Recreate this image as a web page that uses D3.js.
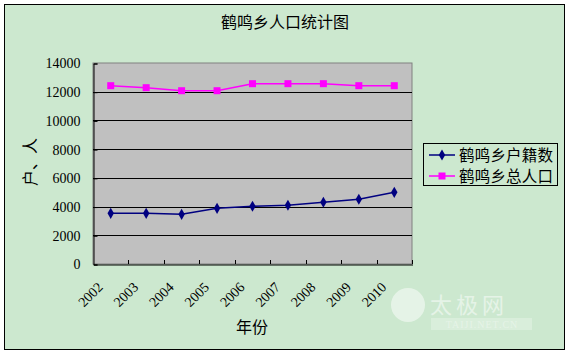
<!DOCTYPE html>
<html><head><meta charset="utf-8">
<script src="https://cdn.jsdelivr.net/npm/d3@7"></script>
<style>body{margin:0;background:#fff}svg{display:block}</style>
</head><body>
<script>
const years = ["2002","2003","2004","2005","2006","2007","2008","2009","2010"];
const huji = [3530, 3530, 3460, 3880, 4020, 4090, 4300, 4510, 4990];
const zongrenkou = [12420, 12280, 12070, 12070, 12560, 12560, 12560, 12420, 12420];
const yTicks = [0, 2000, 4000, 6000, 8000, 10000, 12000, 14000];
const seriesNames = ["鹤鸣乡户籍数", "鹤鸣乡总人口"];

const W = 570, H = 354;
const cjk = "'Noto Sans CJK SC', sans-serif";
const num = "'Liberation Serif', 'DejaVu Serif', serif";
const svg = d3.select("body").append("svg").attr("width", W).attr("height", H);

svg.append("rect").attr("x", 4.5).attr("y", 4.5).attr("width", 560).attr("height", 345)
  .attr("fill", "#cce8cf").attr("stroke", "#000").attr("stroke-width", 1);

const pl = 93, pr = 412, pt = 63, pb = 264;
const x = d3.scaleBand().domain(years).range([pl, pr]);
const y = d3.scaleLinear().domain([0, 14000]).range([pb, pt]);

svg.append("rect").attr("x", pl).attr("y", pt).attr("width", pr - pl).attr("height", pb - pt)
  .attr("fill", "#c0c0c0").attr("stroke", "#808080").attr("stroke-width", 1);

// gridlines
svg.append("g").selectAll("line").data(yTicks.filter(d => d > 0 && d < 14000)).join("line")
  .attr("x1", pl).attr("x2", pr).attr("y1", d => Math.round(y(d)) + 0.5).attr("y2", d => Math.round(y(d)) + 0.5)
  .attr("stroke", "#000").attr("stroke-width", 1);

// y axis
const yAxis = d3.axisLeft(y).tickValues(yTicks).tickFormat(d3.format("d")).tickSize(-4).tickPadding(13);
const ga = svg.append("g").attr("transform", `translate(${pl + 0.5},0.5)`).call(yAxis);
ga.select(".domain").attr("stroke", "#000");
ga.selectAll(".tick line").attr("stroke", "#000");
ga.selectAll("text").attr("font-family", num).attr("font-size", 14).attr("fill", "#000");

// x axis
const xAxis = d3.axisBottom(x).tickSize(0).tickFormat("");
const gx = svg.append("g").attr("transform", `translate(0.5,${pb + 0.5})`).call(xAxis);
gx.select(".domain").attr("stroke", "#000");
gx.selectAll(".tick").remove();
const bounds = years.map(d => x(d)).slice(1).concat([pr]);
svg.append("g").selectAll("line").data(bounds).join("line")
  .attr("x1", d => Math.round(d) + 0.5).attr("x2", d => Math.round(d) + 0.5)
  .attr("y1", pb - 4).attr("y2", pb).attr("stroke", "#000");

svg.append("g").selectAll("text").data(years).join("text")
  .attr("transform", d => `translate(${x(d) + x.bandwidth() / 2 - 7},${pb + 24}) rotate(-45)`)
  .attr("text-anchor", "end").attr("font-family", num).attr("font-size", 14).text(d => d);

// lines
const cx = (d, i) => x(years[i]) + x.bandwidth() / 2;
const line = d3.line().x((d, i) => cx(d, i)).y(d => y(d));
svg.append("path").datum(zongrenkou).attr("d", line).attr("fill", "none").attr("stroke", "#ff00ff").attr("stroke-width", 1.5);
svg.append("path").datum(huji).attr("d", line).attr("fill", "none").attr("stroke", "#000080").attr("stroke-width", 1.5);

svg.append("g").selectAll("rect").data(zongrenkou).join("rect")
  .attr("x", (d, i) => cx(d, i) - 3.5).attr("y", d => y(d) - 3.5).attr("width", 7).attr("height", 7).attr("fill", "#ff00ff");
svg.append("g").selectAll("path").data(huji).join("path")
  .attr("transform", (d, i) => `translate(${cx(d, i)},${y(d)})`)
  .attr("d", d3.symbol().type(d3.symbolDiamond).size(36)).attr("fill", "#000080");

// titles
svg.append("text").attr("x", 285).attr("y", 28).attr("text-anchor", "middle")
  .attr("font-family", cjk).attr("font-size", 16).text("鹤鸣乡人口统计图");
svg.append("text").attr("x", 252).attr("y", 333).attr("text-anchor", "middle")
  .attr("font-family", cjk).attr("font-size", 16).text("年份");
svg.append("text").attr("transform", "translate(36,162) rotate(-90)").attr("text-anchor", "middle")
  .attr("font-family", cjk).attr("font-size", 16).text("户、人");

// legend
const lg = svg.append("g");
lg.append("rect").attr("x", 423.5).attr("y", 143.5).attr("width", 134).attr("height", 42)
  .attr("fill", "#cce8cf").attr("stroke", "#000");
const colors = ["#000080", "#ff00ff"];
seriesNames.forEach((n, i) => {
  const ly = 155 + i * 21;
  lg.append("line").attr("x1", 429).attr("x2", 455).attr("y1", ly).attr("y2", ly).attr("stroke", colors[i]).attr("stroke-width", 1.5);
  if (i === 0) lg.append("path").attr("transform", `translate(442,${ly})`).attr("d", d3.symbol().type(d3.symbolDiamond).size(36)).attr("fill", colors[i]);
  else lg.append("rect").attr("x", 438.5).attr("y", ly - 3.5).attr("width", 7).attr("height", 7).attr("fill", colors[i]);
  lg.append("text").attr("x", 459).attr("y", ly + 5.5).attr("font-family", cjk).attr("font-size", 15.5).attr("letter-spacing", 0.2).text(n);
});

// watermark
const wm = svg.append("g").attr("opacity", 0.5);
wm.append("circle").attr("cx", 408).attr("cy", 305).attr("r", 17).attr("fill", "#fff");
wm.append("text").attr("x", 430).attr("y", 313).attr("font-family", cjk).attr("font-size", 22).attr("fill", "#fff").attr("letter-spacing", 4).text("太极网");
wm.append("rect").attr("x", 431).attr("y", 318).attr("width", 101).attr("height", 12).attr("fill", "#fff").attr("opacity", 0.5);
wm.append("text").attr("x", 482).attr("y", 328).attr("text-anchor", "middle").attr("font-family", num).attr("font-size", 10).attr("fill", "#fff").attr("letter-spacing", 1).text("TAIJI.NET.CN");
</script>
</body></html>
